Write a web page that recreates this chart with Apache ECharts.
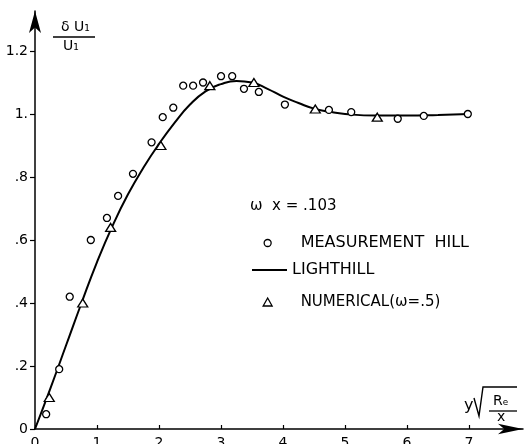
<!DOCTYPE html>
<html>
<head>
<meta charset="utf-8">
<script src="https://cdn.jsdelivr.net/npm/echarts@6/dist/echarts.min.js"></script>
<style>
  html, body { margin: 0; padding: 0; background: #fff; }
  #chart { width: 524px; height: 444px; }
</style>
</head>
<body>
<div id="chart"></div>
<script>
// Velocity amplitude ratio δU1/U1 against the similarity variable y·sqrt(Re/x)

// Measurements (Hill)
const measurementX = [0.18, 0.39, 0.56, 0.90, 1.16, 1.34, 1.58, 1.88, 2.06, 2.23, 2.39, 2.55, 2.71, 3.00, 3.18, 3.37, 3.61, 4.03, 4.74, 5.10, 5.85, 6.27, 6.98];
const measurementY = [0.047, 0.19, 0.42, 0.60, 0.67, 0.74, 0.81, 0.91, 0.99, 1.02, 1.09, 1.09, 1.10, 1.12, 1.12, 1.08, 1.07, 1.03, 1.013, 1.006, 0.985, 0.994, 1.0];

// Numerical solution (ω = .5)
const numericalX = [0.23, 0.77, 1.22, 2.03, 2.82, 3.53, 4.52, 5.52];
const numericalY = [0.10, 0.40, 0.64, 0.90, 1.09, 1.10, 1.016, 0.99];

// Lighthill theory
const lighthillX = [0, 0.25, 0.5, 0.75, 1.0, 1.25, 1.5, 1.75, 2.0, 2.25, 2.5, 2.75, 3.0, 3.25, 3.5, 3.75, 4.0, 4.25, 4.5, 4.75, 5.0, 5.5, 6.0, 6.5, 7.0];
const lighthillY = [0, 0.13, 0.265, 0.40, 0.53, 0.645, 0.745, 0.83, 0.905, 0.972, 1.03, 1.072, 1.095, 1.105, 1.10, 1.08, 1.055, 1.035, 1.017, 1.007, 1.0, 0.995, 0.995, 0.997, 1.0];

// Axis ticks and their labels
const xTicks = [0, 1, 2, 3, 4, 5, 6, 7];
const yTicks = [0, 0.2, 0.4, 0.6, 0.8, 1.0, 1.2];
const yTickLabels = ['0', '.2', '.4', '.6', '.8', '1.', '1.2'];

// Legend texts
const legendHeader = 'ω  x = .103';
const nameMeasurement = 'MEASUREMENT  HILL';
const nameLighthill = 'LIGHTHILL';
const nameNumerical = 'NUMERICAL(ω=.5)';

const zip = (xs, ys) => xs.map((x, i) => [x, ys[i]]);

const FONT = 'DejaVu Sans';
const INK = '#000';

const chart = echarts.init(document.getElementById('chart'), null, { renderer: 'canvas' });

const legendText = (size, padLeft) => ({
  fontFamily: FONT, fontSize: size, color: INK, lineHeight: 16, padding: [0, 0, 0, padLeft]
});
const hollowMark = { color: '#fff', borderColor: INK, borderWidth: 1.3 };

chart.setOption({
  backgroundColor: '#fff',
  animation: false,
  grid: { left: 35, right: 1, top: 11, bottom: 15, containLabel: false, outerBoundsMode: 'none' },
  xAxis: {
    type: 'value',
    min: 0,
    max: 7.87,
    splitLine: { show: false },
    axisLine: {
      onZero: false,
      symbol: ['none', 'arrow'],
      symbolSize: [8, 25],
      lineStyle: { color: INK, width: 1.5 }
    },
    axisTick: { show: true, inside: true, length: 4, customValues: xTicks, lineStyle: { color: INK, width: 1.2 } },
    axisLabel: {
      customValues: xTicks,
      margin: 7,
      color: INK,
      fontFamily: FONT,
      fontSize: 14
    }
  },
  yAxis: {
    type: 'value',
    min: 0,
    max: 1.327,
    splitLine: { show: false },
    axisLine: {
      onZero: false,
      symbol: ['none', 'arrow'],
      symbolSize: [9, 22],
      lineStyle: { color: INK, width: 1.5 }
    },
    axisTick: { show: true, inside: false, length: 5, customValues: yTicks, lineStyle: { color: INK, width: 1.2 } },
    axisLabel: {
      customValues: yTicks,
      margin: 7,
      color: INK,
      fontFamily: FONT,
      fontSize: 14,
      formatter: (v) => {
        const i = yTicks.findIndex(t => Math.abs(t - v) < 1e-6);
        return i >= 0 ? yTickLabels[i] : '';
      }
    }
  },
  legend: [
    {
      data: [nameMeasurement], icon: 'circle', left: 263.5, top: 235,
      itemWidth: 7, itemHeight: 7, padding: 0, selectedMode: false,
      itemStyle: hollowMark, textStyle: legendText(16, 24.5)
    },
    {
      data: [nameLighthill], icon: 'rect', left: 252, top: 262,
      itemWidth: 35, itemHeight: 2, padding: 0, selectedMode: false,
      itemStyle: { color: INK, borderWidth: 0 }, textStyle: legendText(16, 0)
    },
    {
      data: [nameNumerical], icon: 'triangle', left: 262.5, top: 294,
      itemWidth: 9, itemHeight: 8, padding: 0, selectedMode: false,
      itemStyle: hollowMark, textStyle: legendText(15, 23.5)
    }
  ],
  series: [
    {
      name: nameLighthill,
      type: 'line',
      data: zip(lighthillX, lighthillY),
      smooth: 0.5,
      symbol: 'none',
      lineStyle: { color: INK, width: 2 },
      itemStyle: { color: INK },
      z: 2
    },
    {
      name: nameMeasurement,
      type: 'scatter',
      data: zip(measurementX, measurementY),
      symbol: 'circle',
      symbolSize: 7,
      itemStyle: Object.assign({ opacity: 1 }, hollowMark),
      z: 3
    },
    {
      name: nameNumerical,
      type: 'scatter',
      data: zip(numericalX, numericalY),
      symbol: 'triangle',
      symbolSize: [10, 8],
      itemStyle: Object.assign({ opacity: 1 }, hollowMark),
      z: 3
    }
  ],
  graphic: [
    // legend header
    {
      type: 'text', left: 250, top: 199,
      style: { text: legendHeader, font: '15px "DejaVu Sans"', fill: INK }
    },
    // y-axis quantity: δU1 / U1
    {
      type: 'text', left: 61, top: 20,
      style: { text: 'δ U₁', font: '14px "DejaVu Sans"', fill: INK }
    },
    {
      type: 'line', shape: { x1: 53, y1: 37, x2: 95, y2: 37 },
      style: { stroke: INK, lineWidth: 1.3 }
    },
    {
      type: 'text', left: 63, top: 39,
      style: { text: 'U₁', font: '14px "DejaVu Sans"', fill: INK }
    },
    // x-axis quantity: y·sqrt(Re / x)
    {
      type: 'text', left: 464, top: 398,
      style: { text: 'y', font: '16px "DejaVu Sans"', fill: INK }
    },
    {
      type: 'polyline',
      shape: { points: [[474, 398], [479, 416], [483, 387], [517, 387]] },
      style: { stroke: INK, lineWidth: 1.4, fill: null }
    },
    {
      type: 'text', left: 493, top: 394,
      style: { text: 'Rₑ', font: '14px "DejaVu Sans"', fill: INK }
    },
    {
      type: 'line', shape: { x1: 489, y1: 411, x2: 517, y2: 411 },
      style: { stroke: INK, lineWidth: 1.3 }
    },
    {
      type: 'text', left: 497, top: 410,
      style: { text: 'x', font: '14px "DejaVu Sans"', fill: INK }
    }
  ]
});
</script>
</body>
</html>
